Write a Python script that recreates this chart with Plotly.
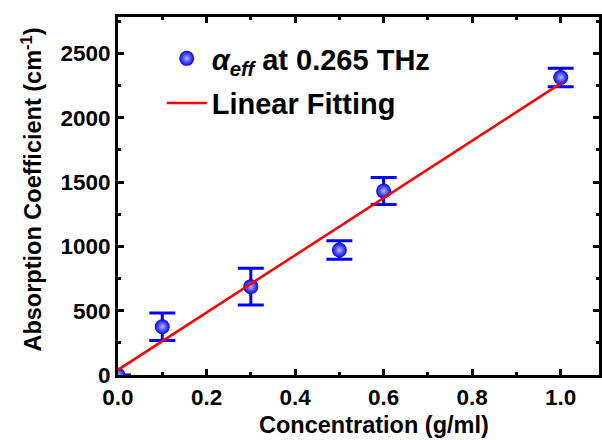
import plotly.graph_objects as go

# Measured absorption at 0.265 THz versus concentration
concentration = [0.0, 0.1, 0.3, 0.5, 0.6, 1.0]
alpha_eff = [0, 375, 687, 972, 1431, 2314]
alpha_err = [0, 107, 143, 72, 105, 72]

# Linear fit endpoints
fit_x = [0.0, 1.0]
fit_y = [40, 2268]

x_ticks = [0.0, 0.2, 0.4, 0.6, 0.8, 1.0]
x_ticklabels = ["0.0", "0.2", "0.4", "0.6", "0.8", "1.0"]
y_ticks = [0, 500, 1000, 1500, 2000, 2500]
y_ticklabels = ["0", "500", "1000", "1500", "2000", "2500"]

FONT = "Liberation Sans, Arial, sans-serif"
BLUE = "#0000ff"

fig = go.Figure()

fig.add_trace(go.Scatter(
    x=concentration, y=alpha_eff,
    mode="markers",
    name="<i>α</i><sub><i>eff</i></sub> at 0.265 THz",
    legendgroup="a",
    marker=dict(symbol="circle", size=15, color="#0000f0",
                gradient=dict(type="radial", color="#b4b4ff"),
                line=dict(width=0)),
    error_y=dict(type="data", array=alpha_err, visible=True,
                 color=BLUE, thickness=3, width=13),
))

fig.add_trace(go.Scatter(
    x=fit_x, y=fit_y,
    mode="lines",
    name="Linear Fitting",
    legendgroup="b",
    line=dict(color="#ff0000", width=2.5),
))

axis_common = dict(
    showline=True, linecolor="black", linewidth=3,
    mirror="ticks", ticks="inside", ticklen=6, tickwidth=2.5, tickcolor="black",
    showgrid=False, zeroline=False,
    tickfont=dict(family=FONT, size=22.5, color="black", weight="bold"),
)

fig.update_xaxes(
    range=[0, 1.0865], tickvals=x_ticks, ticktext=x_ticklabels,
    minor=dict(dtick=0.1, ticks="inside", ticklen=3, tickwidth=2.5, tickcolor="black"),
    **axis_common,
)
fig.update_yaxes(
    range=[0, 2784], tickvals=y_ticks, ticktext=y_ticklabels,
    minor=dict(dtick=250, ticks="inside", ticklen=3, tickwidth=2.5, tickcolor="black"),
    **axis_common,
)

fig.add_annotation(
    text="<b>Concentration (g/ml)</b>", xref="paper", yref="paper",
    x=(376 - 118) / 484, y=-50 / 358, xanchor="center", yanchor="middle",
    showarrow=False, font=dict(family=FONT, size=23.5, color="black"),
)
fig.add_annotation(
    text="<b>Absorption Coefficient (cm<sup>-1</sup>)</b>", xref="paper", yref="paper",
    x=(31 - 118) / 484, y=(375 - 190) / 358, xanchor="center", yanchor="middle",
    textangle=-90, showarrow=False, font=dict(family=FONT, size=23.5, color="black"),
)

fig.update_layout(
    width=602, height=440,
    margin=dict(l=118, r=0, t=17, b=65),
    paper_bgcolor="white", plot_bgcolor="white",
    showlegend=True,
    legend=dict(
        x=(162 - 118) / 484, y=(375 - 33) / 358, xanchor="left", yanchor="top",
        font=dict(family=FONT, size=29, color="black", weight="bold"),
        bgcolor="rgba(0,0,0,0)", borderwidth=0,
        traceorder="grouped", tracegroupgap=4, itemwidth=40,
    ),
)

fig.write_html("out.html")
